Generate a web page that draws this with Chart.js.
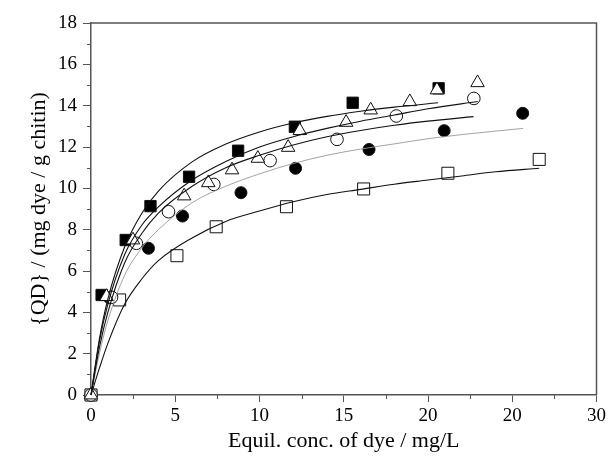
<!DOCTYPE html>
<html>
<head>
<meta charset="utf-8">
<script src="https://cdn.jsdelivr.net/npm/chart.js@4/dist/chart.umd.min.js"></script>
<style>
  html, body { margin: 0; padding: 0; background: #fff; }
  #wrap { width: 609px; height: 466px; }
</style>
</head>
<body>
<div id="wrap"><canvas id="c" width="609" height="466"></canvas></div>
<script>
// Measured uptake points (x: equilibrium concentration, y: dye uptake)
const squareFilledX = [0, 0.63, 2.06, 3.53, 5.82, 8.73, 12.1, 15.53, 20.63];
const squareFilledY = [0, 4.84, 7.50, 9.14, 10.56, 11.82, 12.98, 14.14, 14.84];

const circleFilledX = [0, 1.10, 3.41, 5.43, 8.90, 12.14, 16.50, 20.96, 25.62];
const circleFilledY = [0, 4.70, 7.10, 8.66, 9.79, 10.97, 11.88, 12.79, 13.63];

const circleOpenX = [0, 1.22, 2.69, 4.60, 7.29, 10.63, 14.60, 18.12, 22.72];
const circleOpenY = [0, 4.73, 7.34, 8.87, 10.19, 11.34, 12.37, 13.50, 14.35];

const triangleOpenX = [0, 0.92, 2.49, 5.53, 6.96, 8.37, 9.90, 11.70, 12.39, 15.14, 16.60, 18.92, 20.53, 22.94];
const triangleOpenY = [0, 4.76, 7.50, 9.63, 10.27, 10.89, 11.45, 11.98, 12.79, 13.19, 13.79, 14.19, 14.76, 15.11];

const squareOpenX = [0, 1.70, 5.10, 7.43, 11.60, 16.18, 21.18, 26.60];
const squareOpenY = [0, 4.60, 6.74, 8.14, 9.11, 9.97, 10.73, 11.40];

// Fitted isotherm curves, sampled along x
const fitSquareFilledX = [0, 0.5, 1, 2, 3, 4, 6, 8, 10, 12, 14, 16, 18, 20.6];
const fitSquareFilledY = [0, 2.72, 4.64, 7.17, 8.77, 9.87, 11.28, 12.14, 12.73, 13.16, 13.48, 13.73, 13.93, 14.14];

const fitTriangleX = [0, 0.5, 1, 2, 3, 4, 6, 8, 10, 12, 14, 16, 18, 20, 22.95];
const fitTriangleY = [0, 2.6, 4.4, 6.8, 8.2, 9.1, 10.4, 11.3, 12.0, 12.5, 12.9, 13.25, 13.55, 13.85, 14.2];

const fitCircleOpenX = [0, 0.5, 1, 2, 3, 4, 6, 8, 10, 12, 14, 16, 18, 20, 22.7];
const fitCircleOpenY = [0, 2.3, 4.0, 6.4, 7.8, 8.8, 10.1, 11.0, 11.6, 12.1, 12.5, 12.8, 13.05, 13.25, 13.47];

const fitCircleFilledX = [0, 0.5, 1, 2, 3, 4, 6, 8, 10, 12, 14, 16, 18, 20, 22, 25.65];
const fitCircleFilledY = [0, 2.0, 3.6, 5.8, 7.1, 8.0, 9.3, 10.1, 10.7, 11.2, 11.6, 11.9, 12.15, 12.4, 12.6, 12.9];

const fitSquareOpenX = [0, 0.5, 1, 2, 3, 4, 6, 8, 10, 12, 14, 16, 18, 20, 22, 24, 26.6];
const fitSquareOpenY = [0, 1.3, 2.5, 4.4, 5.6, 6.5, 7.6, 8.4, 8.9, 9.35, 9.7, 9.95, 10.2, 10.4, 10.6, 10.8, 10.97];

// Axis tick labels
const xTickValues = [0, 5, 10, 15, 20, 25, 30];
const xTickLabels = ['0', '5', '10', '15', '20', '20', '30'];
const yTickValues = [0, 2, 4, 6, 8, 10, 12, 14, 16, 18];

const xTitle = 'Equil. conc. of dye / mg/L';
const yTitle = '{QD} / (mg dye / g chitin)';

function pts(xs, ys) { return xs.map((x, i) => ({ x: x, y: ys[i] })); }

const AXIS = '#555555';
const FONT = "'Liberation Serif', 'Times New Roman', serif";

function markers(label, xs, ys, style, radius, filled, order) {
  return {
    label: label,
    data: pts(xs, ys),
    showLine: false,
    pointStyle: style,
    pointRadius: radius,
    pointHoverRadius: radius,
    pointBorderWidth: 1,
    pointBorderColor: '#111',
    pointBackgroundColor: filled ? '#000' : '#fff',
    clip: false,
    order: order
  };
}

function curve(label, xs, ys, color, width) {
  return {
    label: label,
    data: pts(xs, ys),
    showLine: true,
    borderColor: color,
    borderWidth: width,
    pointRadius: 0,
    cubicInterpolationMode: 'monotone',
    fill: false,
    clip: false,
    order: 0
  };
}

// Minor ticks and the closing frame on top / right
const framePlugin = {
  id: 'frame',
  afterDraw(chart) {
    const { ctx, chartArea: a, scales: { x, y } } = chart;
    ctx.save();
    ctx.strokeStyle = AXIS;
    ctx.lineWidth = 1.5;
    ctx.beginPath();
    ctx.moveTo(a.left, a.top);
    ctx.lineTo(a.right, a.top);
    ctx.lineTo(a.right, a.bottom);
    ctx.stroke();
    ctx.lineWidth = 1;
    ctx.beginPath();
    for (let v = 2.5; v < 30; v += 5) {
      const px = Math.round(x.getPixelForValue(v)) + 0.5;
      ctx.moveTo(px, a.bottom);
      ctx.lineTo(px, a.bottom + 4);
    }
    for (let v = 1; v < 18; v += 2) {
      const py = Math.round(y.getPixelForValue(v)) + 0.5;
      ctx.moveTo(a.left, py);
      ctx.lineTo(a.left - 4, py);
    }
    ctx.stroke();
    ctx.restore();
  }
};

new Chart(document.getElementById('c'), {
  type: 'scatter',
  data: {
    datasets: [
      markers('■', squareFilledX, squareFilledY, 'rect', 8, true, 6),
      markers('●', circleFilledX, circleFilledY, 'circle', 6, true, 5),
      markers('□', squareOpenX, squareOpenY, 'rect', 8.5, false, 4),
      markers('○', circleOpenX, circleOpenY, 'circle', 6.3, false, 3),
      markers('△', triangleOpenX, triangleOpenY, 'triangle', 7.8, false, 2),
      curve('fit ■', fitSquareFilledX, fitSquareFilledY, '#111', 1.1),
      curve('fit △', fitTriangleX, fitTriangleY, '#111', 1.1),
      curve('fit ○', fitCircleOpenX, fitCircleOpenY, '#111', 1.1),
      curve('fit ●', fitCircleFilledX, fitCircleFilledY, '#999', 0.9),
      curve('fit □', fitSquareOpenX, fitSquareOpenY, '#111', 1.1)
    ]
  },
  options: {
    responsive: false,
    animation: false,
    layout: { padding: { left: 0, right: 8, top: 23, bottom: 0 } },
    plugins: { legend: { display: false }, tooltip: { enabled: false } },
    scales: {
      x: {
        type: 'linear',
        min: 0, max: 30,
        afterBuildTicks(scale) { scale.ticks = xTickValues.map(v => ({ value: v })); },
        afterFit(scale) { scale.height = 71; },
        ticks: {
          color: '#000',
          font: { family: FONT, size: 19 },
          padding: 3,
          maxRotation: 0,
          callback(value) {
            const i = xTickValues.indexOf(value);
            return i >= 0 ? xTickLabels[i] : '';
          }
        },
        grid: { drawOnChartArea: false, drawTicks: true, tickLength: 7, color: AXIS, lineWidth: 1 },
        border: { display: true, color: AXIS, width: 1.5 },
        title: {
          display: true,
          text: xTitle,
          color: '#000',
          font: { family: FONT, size: 22 },
          padding: { top: 0, bottom: 12 }
        }
      },
      y: {
        type: 'linear',
        min: 0, max: 18,
        afterBuildTicks(scale) { scale.ticks = yTickValues.map(v => ({ value: v })); },
        afterFit(scale) { scale.width = 91; },
        ticks: {
          color: '#000',
          font: { family: FONT, size: 19 },
          padding: 6
        },
        grid: { drawOnChartArea: false, drawTicks: true, tickLength: 8, color: AXIS, lineWidth: 1 },
        border: { display: true, color: AXIS, width: 1.5 },
        title: {
          display: true,
          text: yTitle,
          color: '#000',
          font: { family: FONT, size: 22 },
          padding: { top: 26, bottom: 0 }
        }
      }
    }
  },
  plugins: [framePlugin]
});
</script>
</body>
</html>
